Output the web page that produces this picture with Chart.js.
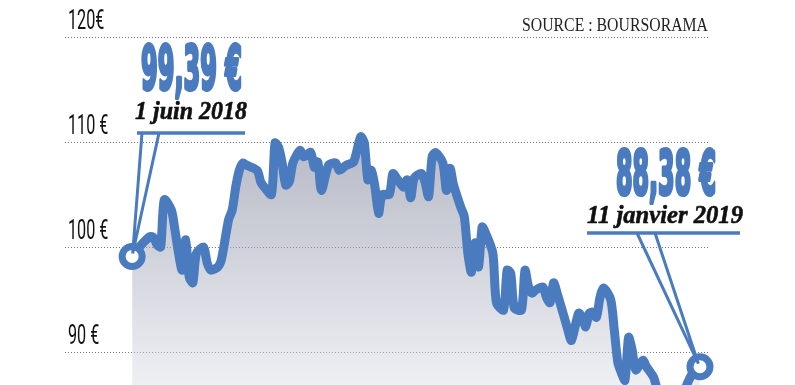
<!DOCTYPE html>
<html>
<head>
<meta charset="utf-8">
<script src="https://cdn.jsdelivr.net/npm/chart.js@4/dist/chart.umd.min.js"></script>
<style>
  html, body { margin: 0; padding: 0; background: #fff; overflow: hidden; }
  #wrap { width: 795px; height: 385px; }
</style>
</head>
<body>
<div id="wrap"><canvas id="price-chart" width="795" height="385"></canvas></div>
<script>
// Cours de l'action, séance par séance (1 juin 2018 = séance 0, 11 janvier 2019 = 159)
const sessions = [
  0, 2, 5, 6, 7, 8, 9, 11, 12, 13,
  14, 15, 16, 17, 18, 20, 21, 22, 24, 25,
  27, 28, 29, 30, 31, 32, 35, 36, 37, 39,
  40, 41, 42, 43, 44, 45, 47, 48, 50, 51,
  52, 53, 55, 57, 58, 60, 62, 64, 65, 66,
  67, 68, 69, 70, 72, 73, 74, 76, 77, 78,
  79, 81, 82, 83, 84, 85, 87, 88, 89, 90,
  92, 93, 94, 95, 96, 97, 98, 99, 101, 102,
  104, 105, 106, 107, 109, 110, 111, 112, 113, 115,
  116, 117, 118, 119, 121, 122, 123, 125, 126, 127,
  128, 129, 130, 131, 132, 134, 135, 136, 137, 138,
  139, 140, 141, 143, 144, 146, 147, 148, 149, 150,
  151, 152, 153, 154, 155, 156, 157, 159
];
const prices = [
  99.1, 100.0, 101.0, 100.9, 100.2, 100.0, 104.5, 103.5, 101.6, 99.4,
  97.8, 100.7, 97.1, 96.6, 99.4, 100.0, 98.5, 97.8, 98.1, 98.8,
  102.6, 103.5, 105.7, 107.3, 108.0, 107.8, 107.3, 106.2, 105.7, 105.0,
  109.9, 109.5, 108.0, 105.9, 106.2, 108.0, 109.2, 108.6, 109.0, 107.6,
  108.1, 105.4, 107.8, 108.0, 107.3, 107.8, 108.1, 110.5, 109.9, 106.4,
  107.3, 105.7, 103.2, 105.0, 105.0, 107.0, 106.6, 105.7, 106.4, 104.7,
  106.6, 107.0, 106.2, 104.8, 108.6, 109.0, 108.0, 105.4, 107.5, 105.9,
  103.8, 102.9, 99.4, 97.6, 100.4, 98.1, 101.9, 101.3, 99.4, 94.7,
  94.0, 97.8, 97.5, 94.2, 94.0, 97.8, 96.2, 95.6, 95.9, 96.2,
  95.2, 94.7, 96.6, 95.6, 93.3, 92.1, 91.1, 93.7, 93.3, 92.4,
  93.7, 93.8, 93.3, 95.2, 96.1, 95.0, 92.1, 89.0, 88.0, 87.3,
  91.4, 90.2, 88.3, 89.2, 88.6, 87.6, 86.4, 85.2, 83.8, 82.6,
  81.9, 82.8, 84.0, 85.2, 86.6, 87.4, 88.0, 88.6
];

const yTicks = [90, 100, 110, 120];
const yTickLabels = ["90 €", "100 €", "110 €", "120€"];

const firstValueLabel = "99,39 €";
const firstDateLabel = "1 juin 2018";
const lastValueLabel = "88,38 €";
const lastDateLabel = "11 janvier 2019";
const sourceLabel = "SOURCE : BOURSORAMA";

const BLUE = "#4a7bbf";

const points = sessions.map((s, i) => ({ x: s, y: prices[i] }));

// texte étiré horizontalement pour imiter les polices condensées
function drawFitted(ctx, text, x, y, font, color, opts) {
  ctx.save();
  ctx.font = font;
  ctx.fillStyle = color;
  ctx.textBaseline = "alphabetic";
  ctx.textAlign = "left";
  const w = ctx.measureText(text).width;
  const sx = opts.width ? opts.width / w : (opts.scale || 1);
  let left = x;
  if (opts.align === "right") left = x - w * sx;
  ctx.translate(left, y);
  ctx.scale(sx, opts.scaleY || 1);
  ctx.fillText(text, 0, 0);
  if (opts.stroke) {
    ctx.strokeStyle = color;
    ctx.lineWidth = opts.stroke;
    ctx.lineJoin = "round";
    ctx.strokeText(text, 0, 0);
  }
  ctx.restore();
}

function callout(ctx, cx, cy, ax, bx, lineY, ulLeft, ulRight) {
  ctx.save();
  ctx.strokeStyle = BLUE;
  ctx.lineCap = "butt";
  // soulignement
  ctx.lineWidth = 3.5;
  ctx.beginPath();
  ctx.moveTo(ulLeft, lineY);
  ctx.lineTo(ulRight, lineY);
  ctx.stroke();
  // pastille blanche
  ctx.fillStyle = "#fff";
  ctx.beginPath();
  ctx.arc(cx, cy, 10, 0, Math.PI * 2);
  ctx.fill();
  // pointe
  const tx = cx + (((ax + bx) / 2) - cx) * 0.03;
  const ty = cy - 3;
  ctx.lineWidth = 3;
  ctx.beginPath();
  ctx.moveTo(ax, lineY);
  ctx.lineTo(tx, ty);
  ctx.lineTo(bx, lineY);
  ctx.stroke();
  // anneau
  ctx.lineWidth = 7;
  ctx.beginPath();
  ctx.arc(cx, cy, 10, 0, Math.PI * 2);
  ctx.stroke();
  ctx.restore();
}

const annotations = {
  id: "annotations",
  afterDatasetsDraw(chart) {
    const ctx = chart.ctx;
    const xs = chart.scales.x;
    const ys = chart.scales.y;

    // graduations
    yTicks.forEach((v, i) => {
      drawFitted(ctx, yTickLabels[i], 68, ys.getPixelForValue(v) - 8,
        "27px Roboto, 'DejaVu Sans', sans-serif", "#111", { scale: 0.6 });
    });

    drawFitted(ctx, sourceLabel, 708, 31,
      "19px 'Liberation Serif', 'DejaVu Serif', serif", "#222", { width: 186, align: "right" });

    // premier point
    const x0 = xs.getPixelForValue(sessions[0]);
    const y0 = ys.getPixelForValue(prices[0]);
    callout(ctx, x0, y0, 142, 159, 133, 137, 245);
    drawFitted(ctx, firstValueLabel, 141, 89,
      "bold 60px 'DejaVu Sans Condensed', 'DejaVu Sans', sans-serif", BLUE, { width: 101, stroke: 4, scaleY: 1.02 });
    drawFitted(ctx, firstDateLabel, 135, 119,
      "italic bold 26px 'Liberation Serif', 'DejaVu Serif', serif", "#111", { width: 112, stroke: 0.6 });

    // dernier point
    const n = sessions.length - 1;
    const x1 = xs.getPixelForValue(sessions[n]);
    const y1 = ys.getPixelForValue(prices[n]);
    callout(ctx, x1, y1, 637, 655, 233, 587, 740);
    drawFitted(ctx, lastValueLabel, 616, 194,
      "bold 60px 'DejaVu Sans Condensed', 'DejaVu Sans', sans-serif", BLUE, { width: 100, stroke: 4, scaleY: 1.02 });
    drawFitted(ctx, lastDateLabel, 587, 223,
      "italic bold 26px 'Liberation Serif', 'DejaVu Serif', serif", "#111", { width: 156, stroke: 0.6 });
  }
};

new Chart("price-chart", {
  type: "line",
  data: {
    datasets: [{
      data: points,
      borderColor: BLUE,
      borderWidth: 9,
      borderJoinStyle: "round",
      borderCapStyle: "round",
      pointRadius: 0,
      tension: 0.25,
      fill: "start",
      backgroundColor: (c) => {
        const area = c.chart.chartArea;
        if (!area) return "rgba(120,125,150,0.5)";
        const g = c.chart.ctx.createLinearGradient(0, area.top + 95, 0, area.bottom);
        g.addColorStop(0, "rgba(112,117,142,0.52)");
        g.addColorStop(1, "rgba(222,224,232,0.5)");
        return g;
      }
    }]
  },
  options: {
    responsive: false,
    animation: false,
    devicePixelRatio: 1,
    layout: { padding: { left: 65, right: 85, top: 37, bottom: 0 } },
    plugins: { legend: { display: false }, tooltip: { enabled: false } },
    scales: {
      x: { type: "linear", display: false, min: -18.8, max: 161.8 },
      y: {
        min: 86.86,
        max: 120,
        afterBuildTicks: (scale) => { scale.ticks = yTicks.map(v => ({ value: v })); },
        ticks: { display: false },
        grid: { color: "#777", lineWidth: 1, drawTicks: false },
        border: { display: false, dash: [1, 2] }
      }
    }
  },
  plugins: [annotations]
});
</script>
</body>
</html>
